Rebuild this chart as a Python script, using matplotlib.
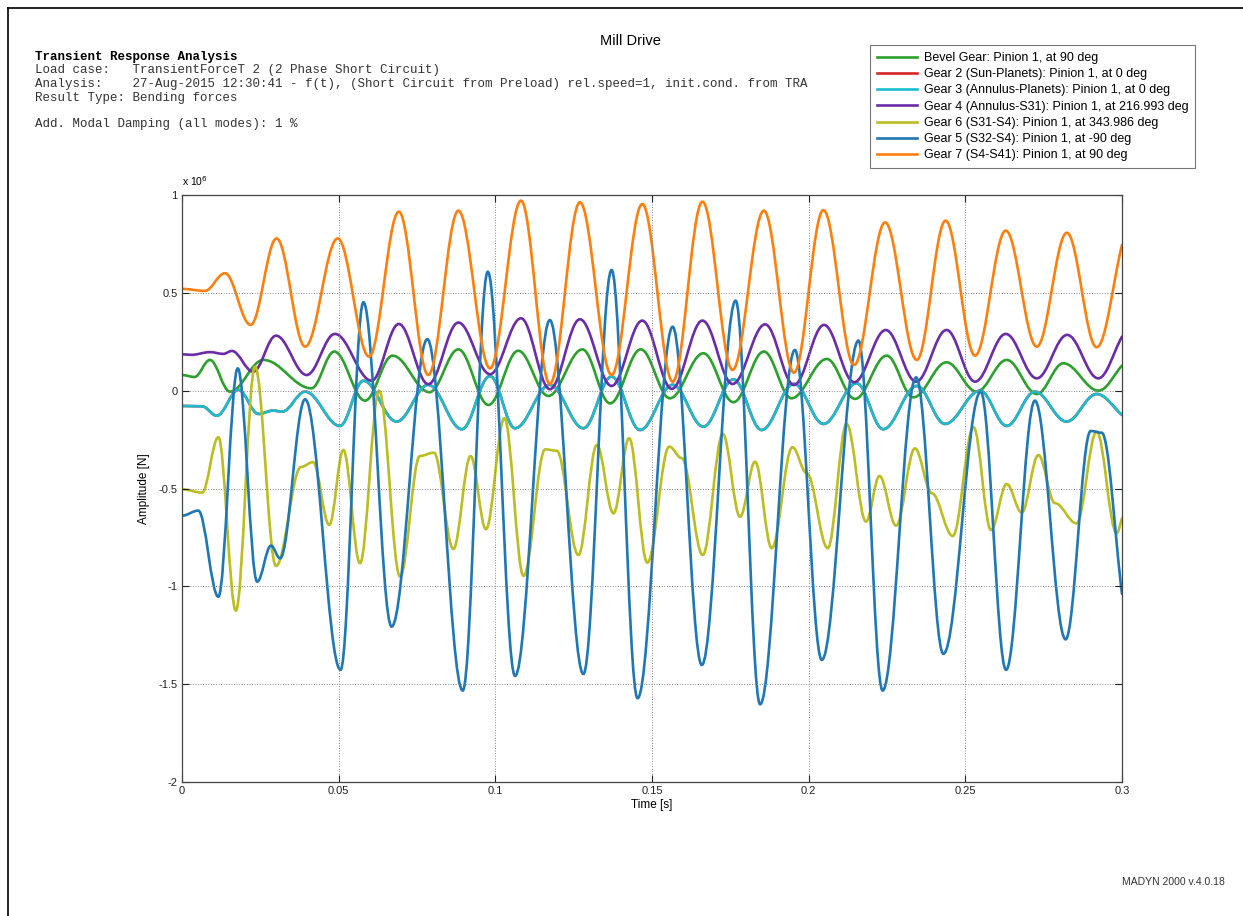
import numpy as np
import matplotlib
matplotlib.use('Agg')
import matplotlib.pyplot as plt
from matplotlib.path import Path
from matplotlib.patches import PathPatch
from matplotlib.lines import Line2D

# extrema (time in s, amplitude in 1e6 N)
bevel_t = [0, 0.0040, 0.0089, 0.0153, 0.0260, 0.0413, 0.0486, 0.0584, 0.0672, 0.0790,
           0.0882, 0.0978, 0.1073, 0.1169, 0.1278, 0.1366, 0.1464, 0.1557, 0.1664, 0.1760,
           0.1857, 0.1945, 0.2058, 0.2148, 0.2249, 0.2334, 0.2440, 0.2536, 0.2632, 0.2728,
           0.2813, 0.2925, 0.300]
bevel_v = [0.080, 0.070, 0.157, -0.005, 0.157, 0.012, 0.200, -0.051, 0.179, -0.008,
           0.211, -0.073, 0.204, -0.027, 0.211, -0.065, 0.211, -0.039, 0.191, -0.059,
           0.200, -0.039, 0.162, -0.042, 0.179, -0.034, 0.145, -0.005, 0.157, -0.017,
           0.140, 0.000, 0.128]

gear3_t = [0, 0.0064, 0.0111, 0.0180, 0.0244, 0.0290, 0.0320, 0.0393, 0.0504, 0.0579,
           0.0685, 0.0786, 0.0893, 0.0983, 0.1063, 0.1174, 0.1281, 0.1371, 0.1462, 0.1566,
           0.1664, 0.1760, 0.1850, 0.1953, 0.2047, 0.2153, 0.2238, 0.2345, 0.2435, 0.2547,
           0.2632, 0.2722, 0.2823, 0.2919, 0.300]
gear3_v = [-0.078, -0.080, -0.128, 0.004, -0.119, -0.102, -0.107, -0.005, -0.180, 0.051,
           -0.158, 0.030, -0.197, 0.075, -0.192, 0.030, -0.192, 0.072, -0.201, 0.030,
           -0.184, 0.058, -0.201, 0.035, -0.170, 0.038, -0.197, 0.024, -0.170, 0.000,
           -0.180, -0.005, -0.158, -0.017, -0.124]

# gear 2 lies right under gear 3 in the picture
gear2_t = gear3_t
gear2_v = gear3_v

gear4_t = [0, 0.0030, 0.0089, 0.0132, 0.0159, 0.0227, 0.0300, 0.0398, 0.0488, 0.0605,
           0.0692, 0.0786, 0.0882, 0.0983, 0.1082, 0.1174, 0.1270, 0.1371, 0.1469, 0.1563,
           0.1661, 0.1757, 0.1861, 0.1953, 0.2049, 0.2145, 0.2246, 0.2343, 0.2440, 0.2531,
           0.2629, 0.2728, 0.2825, 0.2924, 0.300]
gear4_v = [0.186, 0.183, 0.197, 0.188, 0.203, 0.097, 0.281, 0.080, 0.290, 0.051,
           0.341, 0.033, 0.348, 0.084, 0.370, 0.007, 0.365, 0.024, 0.358, 0.009,
           0.358, 0.034, 0.339, 0.029, 0.336, 0.043, 0.310, 0.046, 0.310, 0.046,
           0.290, 0.063, 0.285, 0.063, 0.276]

gear6_t = [0, 0.0064, 0.0116, 0.0172, 0.0233, 0.0300, 0.0380, 0.0418, 0.0470, 0.0515,
           0.0568, 0.0629, 0.0696, 0.0759, 0.0804, 0.0866, 0.0921, 0.0970, 0.1029, 0.1090,
           0.1159, 0.1196, 0.1265, 0.1324, 0.1377, 0.1427, 0.1485, 0.1555, 0.1595, 0.1662,
           0.1726, 0.1781, 0.1829, 0.1882, 0.1948, 0.1994, 0.2061, 0.2121, 0.2183, 0.2226,
           0.2279, 0.2339, 0.2393, 0.2460, 0.2526, 0.2582, 0.2632, 0.2680, 0.2733, 0.2786,
           0.2855, 0.2919, 0.2983, 0.300]
gear6_v = [-0.504, -0.521, -0.238, -1.124, 0.123, -0.896, -0.390, -0.365, -0.686, -0.303,
           -0.882, 0.000, -0.950, -0.334, -0.317, -0.809, -0.334, -0.708, -0.141, -0.947,
           -0.300, -0.307, -0.840, -0.277, -0.627, -0.243, -0.879, -0.286, -0.345, -0.840,
           -0.221, -0.644, -0.363, -0.805, -0.289, -0.422, -0.805, -0.170, -0.669, -0.436,
           -0.690, -0.295, -0.524, -0.743, -0.187, -0.712, -0.477, -0.623, -0.329, -0.575,
           -0.678, -0.209, -0.729, -0.652]

gear5_t = [0, 0.0052, 0.0116, 0.0178, 0.0240, 0.0284, 0.0313, 0.0393, 0.0506, 0.0579,
           0.0669, 0.0783, 0.0896, 0.0976, 0.1063, 0.1174, 0.1281, 0.1371, 0.1454, 0.1566,
           0.1659, 0.1767, 0.1845, 0.1956, 0.2042, 0.2159, 0.2236, 0.2343, 0.2430, 0.2549,
           0.2630, 0.2722, 0.2820, 0.2900, 0.2935, 0.300]
gear5_v = [-0.639, -0.613, -1.053, 0.114, -0.976, -0.792, -0.857, -0.044, -1.427, 0.452,
           -1.206, 0.263, -1.533, 0.608, -1.458, 0.361, -1.448, 0.617, -1.572, 0.327,
           -1.402, 0.460, -1.603, 0.208, -1.376, 0.256, -1.533, 0.068, -1.345, -0.005,
           -1.427, -0.051, -1.271, -0.206, -0.215, -1.039]

gear7_t = [0, 0.0073, 0.0137, 0.0219, 0.0302, 0.0393, 0.0497, 0.0597, 0.0692, 0.0786,
           0.0882, 0.0983, 0.1082, 0.1174, 0.1270, 0.1371, 0.1469, 0.1566, 0.1661, 0.1757,
           0.1857, 0.1953, 0.2047, 0.2145, 0.2244, 0.2345, 0.2437, 0.2531, 0.2629, 0.2728,
           0.2824, 0.2919, 0.300]
gear7_v = [0.52, 0.51, 0.60, 0.336, 0.778, 0.225, 0.778, 0.174, 0.915, 0.080,
           0.920, 0.114, 0.971, 0.034, 0.963, 0.080, 0.954, 0.046, 0.966, 0.106,
           0.920, 0.092, 0.923, 0.131, 0.860, 0.157, 0.869, 0.179, 0.818, 0.225,
           0.807, 0.222, 0.745]

labels = ['Bevel Gear: Pinion 1, at 90 deg',
          'Gear 2 (Sun-Planets): Pinion 1, at 0 deg',
          'Gear 3 (Annulus-Planets): Pinion 1, at 0 deg',
          'Gear 4 (Annulus-S31): Pinion 1, at 216.993 deg',
          'Gear 6 (S31-S4): Pinion 1, at 343.986 deg',
          'Gear 5 (S32-S4): Pinion 1, at -90 deg',
          'Gear 7 (S4-S41): Pinion 1, at 90 deg']
colors = ['#2ca02c', '#d62728', '#17becf', '#6a2ca8', '#bcbd22', '#1f77b4', '#ff7f0e']
series = [(bevel_t, bevel_v), (gear2_t, gear2_v), (gear3_t, gear3_v), (gear4_t, gear4_v),
          (gear6_t, gear6_v), (gear5_t, gear5_v), (gear7_t, gear7_v)]


def smooth_path(t, v, k=0.364):
    # cubic bezier through the extrema, flat tangent at each one
    verts = [(t[0], v[0])]
    codes = [Path.MOVETO]
    for i in range(1, len(t)):
        dt = t[i] - t[i - 1]
        c1 = (t[i - 1] + k * dt, v[i - 1])
        if i == len(t) - 1:
            c2 = (t[i] - k * dt, v[i] - (v[i] - v[i - 1]) * k)
        else:
            c2 = (t[i] - k * dt, v[i])
        verts += [c1, c2, (t[i], v[i])]
        codes += [Path.CURVE4] * 3
    return Path(verts, codes)


plt.rcParams['font.family'] = ['Liberation Sans', 'DejaVu Sans']
W, H = 1243, 916
fig = plt.figure(figsize=(W / 100, H / 100), dpi=100)
ax = fig.add_axes([182 / W, 1 - 782 / H, (1122 - 182) / W, (782 - 195) / H])

for (t, v), c in zip(series, colors):
    ax.add_patch(PathPatch(smooth_path(t, v), fill=False, edgecolor=c, lw=1.9,
                           joinstyle='round', capstyle='round'))

ax.set_xlim(0, 0.3)
ax.set_ylim(-2, 1)
ax.set_xticks([0, 0.05, 0.1, 0.15, 0.2, 0.25, 0.3])
ax.set_xticklabels(['0', '0.05', '0.1', '0.15', '0.2', '0.25', '0.3'])
ax.set_yticks([-2, -1.5, -1, -0.5, 0, 0.5, 1])
ax.set_yticklabels(['-2', '-1.5', '-1', '-0.5', '0', '0.5', '1'])
ax.tick_params(direction='in', top=True, right=True, length=5, width=0.8,
               labelsize=8, colors='#222222', pad=3)
ax.grid(True, linestyle=':', color='#888888', lw=0.7)
for s in ax.spines.values():
    s.set_color('#444444')
    s.set_linewidth(0.9)
ax.set_xlabel('Time [s]', fontsize=8.5, labelpad=2)
ax.set_ylabel('Amplitude [N]', fontsize=8.5, labelpad=6)
ax.text(0, 1.012, r'x 10$^6$', transform=ax.transAxes, fontsize=7.5, va='bottom')

handles = [Line2D([0], [0], color=c, lw=1.9) for c in colors]
leg = fig.legend(handles, labels, loc='upper right',
                 bbox_to_anchor=(1195 / W, 1 - 45 / H), bbox_transform=fig.transFigure,
                 fontsize=9, handlelength=3.2, handletextpad=0.5, labelspacing=0.34,
                 borderpad=0.55, borderaxespad=0, fancybox=False, framealpha=1)
leg.get_frame().set_edgecolor('#777777')
leg.get_frame().set_linewidth(0.8)

fig.text(630 / W, 1 - 41 / H, 'Mill Drive', ha='center', va='center', fontsize=10.5)

mono = 'Liberation Mono'
fig.text(35 / W, 1 - 57 / H, 'Transient Response Analysis', family=mono,
         fontsize=9, weight='bold', va='center')
header = ['Load case:   TransientForceT 2 (2 Phase Short Circuit)',
          'Analysis:    27-Aug-2015 12:30:41 - f(t), (Short Circuit from Preload) rel.speed=1, init.cond. from TRA',
          'Result Type: Bending forces',
          '',
          'Add. Modal Damping (all modes): 1 %']
for i, line in enumerate(header):
    fig.text(35 / W, 1 - (70.5 + 13.5 * i) / H, line, family=mono, fontsize=9,
             va='center', color='#333333')

fig.text(1225 / W, 1 - 882 / H, 'MADYN 2000 v.4.0.18', ha='right', va='center',
         fontsize=7.5, color='#333333')

# page frame
fig.add_artist(Line2D([8 / W, 8 / W], [0, 1 - 8 / H], color='black', lw=1.2,
                      transform=fig.transFigure))
fig.add_artist(Line2D([8 / W, 1], [1 - 8 / H, 1 - 8 / H], color='black', lw=1.2,
                      transform=fig.transFigure))

fig.savefig('out.png', dpi=100)
